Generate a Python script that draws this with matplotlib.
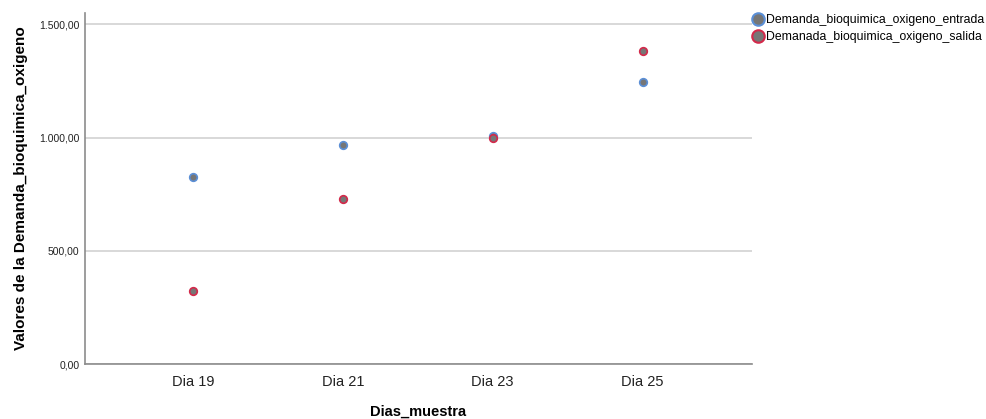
import matplotlib.pyplot as plt
from matplotlib.lines import Line2D
from matplotlib.ticker import FuncFormatter

plt.rcParams['font.family'] = ['Liberation Sans', 'DejaVu Sans']

dias = ['Dia 19', 'Dia 21', 'Dia 23', 'Dia 25']
entrada = [824, 969, 1009, 1247]
salida = [321, 727, 996, 1383]
yticks = [0, 500, 1000, 1500]

blue = '#5b8fd6'
red = '#d3294a'
fill = '#767676'


def fmt(v, pos):
    # formato español: 1.500,00
    s = f"{v:,.2f}"
    return s.replace(',', 'X').replace('.', ',').replace('X', '.')


fig = plt.figure(figsize=(9.86, 4.19), dpi=100)
ax = fig.add_axes([85 / 986, 1 - 364 / 419, (752 - 85) / 986, (364 - 13) / 419])

x = list(range(len(dias)))
ax.scatter(x, entrada, s=30, facecolor=fill, edgecolor=blue, linewidth=1.2, zorder=3)
ax.scatter(x, salida, s=30, facecolor=fill, edgecolor=red, linewidth=1.2, zorder=3)

ax.set_xlim(-0.72, 3.73)
ax.set_ylim(0, 1550)
ax.set_xticks(x)
ax.set_xticklabels(dias, fontsize=10.5, color='#222222')
ax.set_yticks(yticks)
ax.yaxis.set_major_formatter(FuncFormatter(fmt))
ax.tick_params(axis='y', labelsize=7.5, length=0, pad=4, labelcolor='#222222')
ax.tick_params(axis='x', length=0, pad=8)
ax.grid(axis='y', color='#d2d2d2', linewidth=1.2)
ax.set_axisbelow(True)

for side in ['top', 'right']:
    ax.spines[side].set_visible(False)
for side in ['left', 'bottom']:
    ax.spines[side].set_color('#8c8c8c')
    ax.spines[side].set_linewidth(1.2)

ax.set_xlabel('Dias_muestra', fontsize=10.5, fontweight='bold', labelpad=11)
ax.set_ylabel('Valores de la Demanda_bioquimica_oxigeno', fontsize=11,
              fontweight='bold', labelpad=8)

handles = [
    Line2D([], [], linestyle='none', marker='o', markersize=9,
           markerfacecolor=fill, markeredgecolor=blue, markeredgewidth=1.5),
    Line2D([], [], linestyle='none', marker='o', markersize=9,
           markerfacecolor=fill, markeredgecolor=red, markeredgewidth=1.5),
]
labels = ['Demanda_bioquimica_oxigeno_entrada', 'Demanada_bioquimica_oxigeno_salida']
fig.legend(handles, labels, loc='upper left', bbox_to_anchor=(753 / 986, 1 - 14 / 419),
           frameon=False, fontsize=8.8, handlelength=0.8, handletextpad=0.25,
           labelspacing=0.4, borderaxespad=0, borderpad=0)

fig.savefig('out.png', dpi=100)
